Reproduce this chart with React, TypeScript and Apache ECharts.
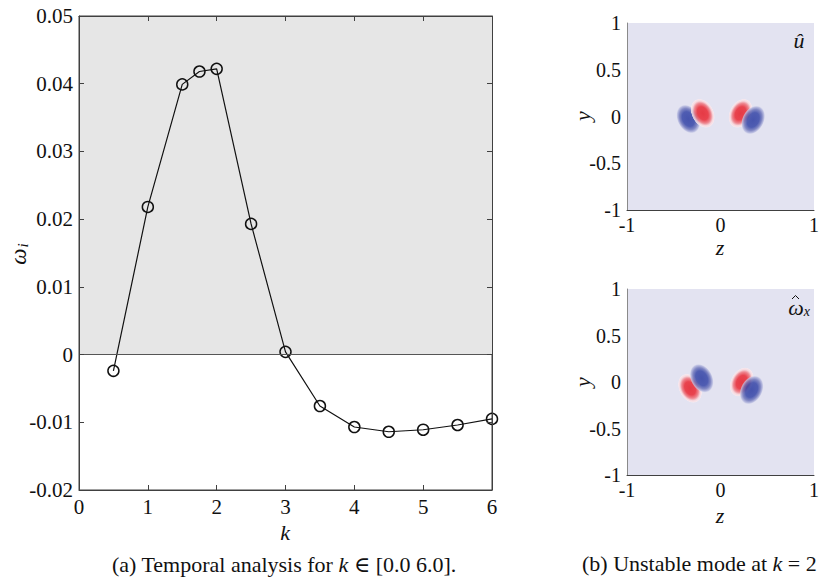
import React, { useEffect, useRef } from 'react';
import * as echarts from 'echarts';

// Temporal analysis: growth rate omega_i versus wavenumber k
const kValues = [0.5, 1, 1.5, 1.75, 2, 2.5, 3, 3.5, 4, 4.5, 5, 5.5, 6];
const omegaI = [-0.0024, 0.0218, 0.0399, 0.0418, 0.0422, 0.0193, 0.0004, -0.0076, -0.0107, -0.0114, -0.0111, -0.0104, -0.0095];

// Unstable mode at k = 2: lobes [z, y, sign(+1 red / -1 blue)]
const uHatLobes = [
  [-0.345, -0.027, -1],
  [-0.19, 0.034, 1],
  [0.214, 0.034, 1],
  [0.35, -0.037, -1],
];
const omegaXLobes = [
  [-0.326, -0.068, 1],
  [-0.201, 0.04, -1],
  [0.227, 0.0, 1],
  [0.333, -0.086, -1],
];

const FONT = 'Liberation Serif, DejaVu Serif, serif';
const AX = '#404040';

export default function App() {
  const ref = useRef<HTMLDivElement>(null);
  useEffect(() => {
    document.body.style.margin = '0';
    const chart = echarts.init(ref.current!, null, { renderer: 'svg' });

    const redGrad = new echarts.graphic.RadialGradient(0.5, 0.5, 0.5, [
      { offset: 0, color: '#e6101a' },
      { offset: 0.45, color: '#ea1c26' },
      { offset: 0.68, color: '#f07078' },
      { offset: 0.84, color: '#fbd6da' },
      { offset: 0.95, color: '#fbe8ec' },
      { offset: 1, color: 'rgba(240,236,246,0)' },
    ]);
    const blueGrad = new echarts.graphic.RadialGradient(0.5, 0.5, 0.5, [
      { offset: 0, color: '#1f309c' },
      { offset: 0.5, color: '#2a3ba2' },
      { offset: 0.72, color: '#6870b8' },
      { offset: 0.9, color: '#b8bbe0' },
      { offset: 1, color: 'rgba(227,227,241,0)' },
    ]);

    const lobeData = (lobes: number[][]) =>
      lobes.map((b) => ({
        value: [b[0], b[1]],
        symbolRotate: b[0] < 0 ? 28 : -28,
        itemStyle: { color: b[2] > 0 ? redGrad : blueGrad },
      }));

    const tickLabel = { fontFamily: FONT, fontSize: 21, color: '#111' };

    const smallAxes = (grid: number) => ({
      x: {
        gridIndex: grid, type: 'value', min: -1, max: 1, interval: 1, z: 5,
        axisLine: { show: true, onZero: false, lineStyle: { color: AX } },
        axisTick: { show: false },
        axisLabel: { ...tickLabel, fontSize: 20, margin: 5 },
        splitLine: { show: false },
      },
      y: {
        gridIndex: grid, type: 'value', min: -1, max: 1, interval: 0.5, z: 5,
        axisLine: { show: true, onZero: false, lineStyle: { color: '#8a8a8a' } },
        axisTick: { show: false },
        axisLabel: { ...tickLabel, fontSize: 20, margin: 6, formatter: (v: number) => String(v) },
        splitLine: { show: false },
      },
    });
    const s1 = smallAxes(1);
    const s2 = smallAxes(2);

    const it = (t: string, x: number, y: number, extra: any = {}) => ({
      type: 'text', x, y, ...extra,
      style: { text: t, fontFamily: FONT, fontStyle: 'italic', fontSize: 22, fill: '#111', align: 'center', verticalAlign: 'middle' },
    });

    const option: any = {
      animation: false,
      backgroundColor: '#fff',
      grid: [
        { left: 79, top: 16, width: 413, height: 474, show: true, borderColor: AX, borderWidth: 1, backgroundColor: 'transparent' },
        { left: 627, top: 23, width: 187, height: 187, show: true, borderWidth: 0, backgroundColor: '#e3e3f1' },
        { left: 627, top: 289, width: 187, height: 186, show: true, borderWidth: 0, backgroundColor: '#e3e3f1' },
      ],
      xAxis: [
        {
          gridIndex: 0, type: 'value', min: 0, max: 6, interval: 1, z: 5,
          axisLine: { show: true, onZero: false, lineStyle: { color: AX } },
          axisTick: { show: true, inside: true, length: 5, lineStyle: { color: AX } },
          axisLabel: { ...tickLabel, margin: 6 },
          splitLine: { show: false },
        },
        {
          gridIndex: 0, type: 'value', min: 0, max: 6, interval: 1, position: 'top', z: 5,
          axisLine: { show: true, onZero: false, lineStyle: { color: AX } },
          axisTick: { show: true, inside: true, length: 5, lineStyle: { color: AX } },
          axisLabel: { show: false },
          splitLine: { show: false },
        },
        s1.x,
        s2.x,
      ],
      yAxis: [
        {
          gridIndex: 0, type: 'value', min: -0.02, max: 0.05, interval: 0.01, z: 5,
          axisLine: { show: true, onZero: false, lineStyle: { color: AX } },
          axisTick: { show: true, inside: true, length: 5, lineStyle: { color: AX } },
          axisLabel: { ...tickLabel, margin: 6, formatter: (v: number) => (Math.abs(v) < 1e-9 ? '0' : v.toFixed(2)) },
          splitLine: { show: false },
        },
        {
          gridIndex: 0, type: 'value', min: -0.02, max: 0.05, interval: 0.01, position: 'right', z: 5,
          axisLine: { show: true, onZero: false, lineStyle: { color: AX } },
          axisTick: { show: true, inside: true, length: 5, lineStyle: { color: AX } },
          axisLabel: { show: false },
          splitLine: { show: false },
        },
        s1.y,
        s2.y,
      ],
      series: [
        {
          type: 'line', xAxisIndex: 0, yAxisIndex: 0, data: [], z: 1,
          markArea: {
            silent: true,
            itemStyle: { color: '#e6e6e6' },
            data: [[{ yAxis: 0 }, { yAxis: 0.05 }]],
          },
          markLine: {
            silent: true, symbol: 'none', label: { show: false },
            lineStyle: { color: '#555', width: 1, type: 'solid' },
            data: [{ yAxis: 0 }],
          },
        },
        {
          type: 'line', xAxisIndex: 0, yAxisIndex: 0, z: 3,
          data: kValues.map((k, i) => [k, omegaI[i]]),
          symbol: 'circle', symbolSize: 11, showAllSymbol: true,
          lineStyle: { color: '#111', width: 1.2 },
          itemStyle: { color: 'rgba(0,0,0,0)', borderColor: '#111', borderWidth: 1.5 },
        },
        {
          type: 'scatter', xAxisIndex: 2, yAxisIndex: 2, z: 3,
          symbol: 'circle', symbolSize: [22, 31],
          data: lobeData(uHatLobes),
        },
        {
          type: 'scatter', xAxisIndex: 3, yAxisIndex: 3, z: 3,
          symbol: 'circle', symbolSize: [22, 31],
          data: lobeData(omegaXLobes),
        },
      ],
      graphic: [
        {
          type: 'text', x: 18, y: 254, rotation: Math.PI / 2,
          style: {
            text: '{w|ω}{s|i}', align: 'center', verticalAlign: 'middle',
            fontFamily: FONT, fontStyle: 'italic', fontSize: 23, fill: '#111',
            rich: {
              w: { fontFamily: FONT, fontStyle: 'italic', fontSize: 23, fill: '#111' },
              s: { fontFamily: FONT, fontStyle: 'italic', fontSize: 15, fill: '#111', padding: [10, 0, 0, 1] },
            },
          },
        },
        it('k', 285, 532),
        {
          type: 'text', x: 284, y: 564,
          style: {
            text: '(a) Temporal analysis for {i|k} ∈ [0.0 6.0].', align: 'center', verticalAlign: 'middle',
            fontFamily: FONT, fontSize: 22, fill: '#111',
            rich: { i: { fontFamily: FONT, fontStyle: 'italic', fontSize: 22, fill: '#111' } },
          },
        },
        {
          type: 'text', x: 582, y: 563,
          style: {
            text: '(b) Unstable mode at {i|k} = 2', align: 'left', verticalAlign: 'middle',
            fontFamily: FONT, fontSize: 22, fill: '#111',
            rich: { i: { fontFamily: FONT, fontStyle: 'italic', fontSize: 22, fill: '#111' } },
          },
        },
        it('y', 582, 116, { rotation: Math.PI / 2 }),
        it('y', 582, 382, { rotation: Math.PI / 2 }),
        it('z', 720, 247),
        it('z', 720, 515),
        it('û', 799, 40),
        {
          type: 'text', x: 799, y: 307,
          style: {
            text: '{w|ω}{s|x}', align: 'center', verticalAlign: 'middle',
            fontFamily: FONT, fontStyle: 'italic', fontSize: 22, fill: '#111',
            rich: {
              w: { fontFamily: FONT, fontStyle: 'italic', fontSize: 22, fill: '#111' },
              s: { fontFamily: FONT, fontStyle: 'italic', fontSize: 14, fill: '#111', padding: [9, 0, 0, 0] },
            },
          },
        },
        {
          type: 'polyline',
          shape: { points: [[792, 299], [795.5, 295.5], [799, 299]] },
          style: { stroke: '#111', lineWidth: 1, fill: 'none' },
        },
      ],
    };
    chart.setOption(option);
    return () => chart.dispose();
  }, []);
  return <div ref={ref} style={{ width: 834, height: 579 }} />;
}
